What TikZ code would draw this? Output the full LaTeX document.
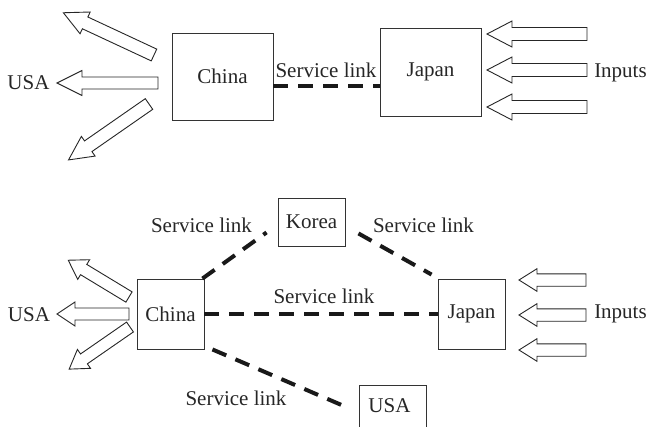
\documentclass[tikz,border=0pt]{standalone}
\usepackage{fontspec}
\setmainfont{Liberation Serif}
\tikzset{
  box/.style={draw=black!80, line width=0.9pt, inner sep=0pt, text=black!85,
              font=\fontsize{21}{25}\selectfont},
  lbl/.style={text=black!85, inner sep=0pt, font=\fontsize{21}{25}\selectfont},
  link/.style={draw=black!90, line width=4pt, dash pattern=on 15pt off 10pt},
  blk/.style={draw=black!85, line width=0.9pt, fill=white, line join=miter},
  % hollow block arrow: total length, head length, shaft half width, head half width
  pics/blockarrow/.style n args={4}{code={
    \draw[blk] (0,{-#3}) -- ({#1-#2},{-#3}) -- ({#1-#2},{-#4}) -- (#1,0)
      -- ({#1-#2},#4) -- ({#1-#2},#3) -- (0,#3) -- cycle;
  }}
}
\begin{document}
\begin{tikzpicture}[x=1pt,y=-1pt]
\useasboundingbox (0,0) rectangle (651,426);
\clip (0,0) rectangle (651,426);

% ---------- upper scheme ----------
\node[box, minimum width=101pt, minimum height=87pt] (china1) at (222.5,76.5) {China};
\node[box, minimum width=101pt, minimum height=88pt] (japan1) at (430.5,72) {Japan};
\draw[link] ([yshift=-9.5pt]china1.east) -- ([yshift=-9.5pt]china1.east -| japan1.west);
\node[lbl, anchor=base] (sl1) at (326,77) {Service link};

\pic[rotate=155]    at (154,55)  {blockarrow={100}{24}{6.5}{12}};
\pic[rotate=180]    at (158,83)  {blockarrow={101}{25}{6}{12.5}};
\pic[rotate=-145.2] at (149,104) {blockarrow={98}{24}{6.5}{12}};
\node[lbl, anchor=base] (usa1) at (28.5,89) {USA};

\foreach \yy in {34,70,107}
  \pic[rotate=180] at (587,\yy) {blockarrow={100}{25}{6.5}{13}};
\node[lbl, anchor=base] (inp1) at (620.5,77) {Inputs};

% ---------- lower scheme ----------
\node[box, minimum width=67pt, minimum height=70pt] (china2) at (170.5,314) {China};
\node[box, minimum width=67pt, minimum height=48pt] (korea) at (311.5,222) {Korea};
\node[box, minimum width=67pt, minimum height=70pt] (japan2) at (471.5,314) {Japan};
\node[box, minimum width=67pt, minimum height=70pt, anchor=north] (usa2) at (392.5,385) {};
\node[lbl, anchor=base] (usa2t) at (389.5,412) {USA};

\draw[link] ([xshift=-2pt]china2.north east) -- ([xshift=-11pt,yshift=14pt]korea.south west);
\draw[link] ([xshift=13pt,yshift=13pt]korea.south east) -- ([xshift=-6pt,yshift=4pt]japan2.north west);
\draw[link] (china2.east) -- (japan2.west);
\draw[link] ([xshift=8pt]china2.south east) -- ([xshift=-17pt,yshift=-20pt]usa2.north west);

\node[lbl, anchor=base] (sl2) at (201.5,232) {Service link};
\node[lbl, anchor=base] (sl3) at (423.5,232) {Service link};
\node[lbl, anchor=base] (sl4) at (324,303) {Service link};
\node[lbl, anchor=base] (sl5) at (236,405) {Service link};

\pic[rotate=148.8]  at (129,297) {blockarrow={71}{18}{6}{11.5}};
\pic[rotate=180]    at (129,314) {blockarrow={72}{18}{6}{12}};
\pic[rotate=-145.3] at (130,327) {blockarrow={74}{18}{6}{11.5}};
\node[lbl, anchor=base] (usa3) at (29,321) {USA};

\foreach \yy in {280,315,350}
  \pic[rotate=180] at (586,\yy) {blockarrow={67}{18}{6.2}{11.3}};
\node[lbl, anchor=base] (inp2) at (620.5,318) {Inputs};
\end{tikzpicture}
\end{document}
